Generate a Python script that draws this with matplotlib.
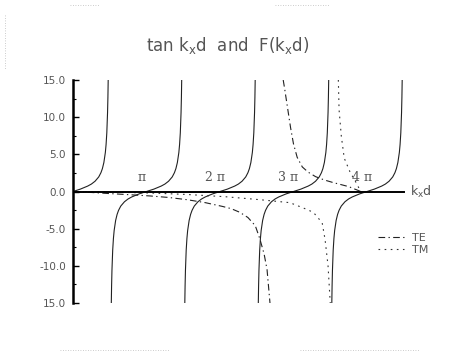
import numpy as np
import matplotlib
matplotlib.use("Agg")
import matplotlib.pyplot as plt
from matplotlib.lines import Line2D

# ---- data (kx*d given in units of pi) ----
# one tan branch read around its zero crossing (offset, value)
tan_dx = [0, 0.1, 0.2, 0.25, 0.3, 0.35, 0.38, 0.4, 0.42, 0.44, 0.45, 0.46, 0.47, 0.475, 0.479]
tan_val = [0, 0.32, 0.73, 1.0, 1.38, 1.96, 2.53, 3.08, 3.9, 5.24, 6.31, 7.9, 10.6, 12.7, 15.1]
tan_centers = [0, 1, 2, 3, 4]

te_lo_x = [0, 0.25, 0.5, 0.75, 1.05, 1.3, 1.55, 1.8, 2.03, 2.15, 2.27, 2.38, 2.48, 2.54, 2.6, 2.64, 2.68]
te_lo_y = [0, -0.13, -0.28, -0.42, -0.6, -0.8, -1.1, -1.5, -2.0, -2.3, -2.8, -3.5, -4.6, -6.3, -8.4, -10.5, -15.0]
te_hi_x = [2.86, 2.88, 2.92, 2.96, 3.0, 3.05, 3.12, 3.2, 3.3, 3.42, 3.54, 3.75, 3.915]
te_hi_y = [15.0, 13.8, 11.2, 8.6, 6.4, 4.6, 3.3, 2.6, 2.0, 1.55, 1.2, 0.66, 0.0]

tm_lo_x = [0, 0.5, 1.05, 1.55, 2.07, 2.54, 2.95, 3.13, 3.2, 3.27, 3.39, 3.43, 3.47, 3.5]
tm_lo_y = [0, -0.08, -0.2, -0.4, -0.7, -1.1, -1.5, -2.2, -2.5, -2.8, -4.2, -6.5, -10.0, -15.0]
tm_hi_x = [3.61, 3.62, 3.65, 3.69, 3.77, 3.84, 3.915]
tm_hi_y = [15.0, 11.0, 7.5, 4.5, 2.6, 1.4, 0.0]

pi_marks = [1, 2, 3, 4]
pi_labels = ["\u03c0", "2 \u03c0", "3 \u03c0", "4 \u03c0"]

yticks = [15, 10, 5, 0, -5, -10, -15]
ytick_labels = ["15.0", "10.0", "5.0", "0.0", "-5.0", "-10.0", "15.0"]

GREY = "#555555"

fig = plt.figure(figsize=(4.54, 3.53), dpi=100)
W, H = 454, 353
ax_l, ax_r, ax_t, ax_b = 73, 430, 80, 303
ax = fig.add_axes([ax_l / W, 1 - ax_b / H, (ax_r - ax_l) / W, (ax_b - ax_t) / H])
xmax = (ax_r - ax_l) / 73.5 * np.pi
ax.set_xlim(0, xmax)
ax.set_ylim(-15, 15)

# tan branches, mirrored around each zero crossing
dx = np.array(tan_dx)
tv = np.array(tan_val)
for c in tan_centers:
    if c == 0:
        xs, ys = dx, tv
    else:
        xs = np.concatenate([c - dx[::-1], c + dx[1:]])
        ys = np.concatenate([-tv[::-1], tv[1:]])
    ax.plot(xs * np.pi, ys, color="#222222", lw=0.8)

te_style = dict(color="#222222", lw=0.8, dashes=[6, 3, 1.2, 3])
tm_style = dict(color="#333333", lw=0.8, dashes=[1.5, 4])
ax.plot(np.array(te_lo_x) * np.pi, te_lo_y, **te_style)
ax.plot(np.array(te_hi_x) * np.pi, te_hi_y, **te_style)
ax.plot(np.array(tm_lo_x) * np.pi, tm_lo_y, **tm_style)
ax.plot(np.array(tm_hi_x) * np.pi, tm_hi_y, **tm_style)

# horizontal kxd axis
ax.plot([0, 4.5 * np.pi], [0, 0], color="black", lw=1.4)
ax.text(4.5 * np.pi + 0.25, 0, r"k$_\mathrm{x}$d", fontsize=9, color=GREY,
        va="center", ha="left")

for m, lab in zip(pi_marks, pi_labels):
    ax.text(m * np.pi - 0.22, 1.9, lab, fontsize=9, color=GREY,
            family="DejaVu Serif", ha="center", va="center")

for s in ["top", "right", "bottom"]:
    ax.spines[s].set_visible(False)
ax.spines["left"].set_linewidth(1.8)
ax.set_xticks([])
ax.set_yticks(yticks)
ax.set_yticklabels(ytick_labels, fontsize=7.5, color=GREY)
ax.set_yticks(np.arange(-12.5, 15, 5), minor=True)
ax.tick_params(axis="y", direction="in", length=4, width=1, pad=5)
ax.tick_params(axis="y", which="minor", direction="in", length=2, width=0.8)

fig.text(228 / W, 1 - 45 / H, r"tan k$_\mathrm{x}$d  and  F(k$_\mathrm{x}$d)",
         fontsize=12, color=GREY, ha="center", va="center")

handles = [Line2D([], [], **te_style), Line2D([], [], **tm_style)]
ax.legend(handles, ["TE", "TM"], loc="center left", frameon=False,
          bbox_to_anchor=(368 / W, 1 - 244 / H), bbox_transform=fig.transFigure,
          fontsize=8, handlelength=2.3, handletextpad=0.8, labelspacing=0.2,
          labelcolor=GREY)

# faint page border marks
for x0, x1, y in [(70, 100, 5), (275, 330, 5), (60, 170, 350), (300, 420, 350)]:
    fig.add_artist(Line2D([x0 / W, x1 / W], [1 - y / H] * 2, color="#bbbbbb",
                          lw=0.6, dashes=[1, 2]))
fig.add_artist(Line2D([5 / W, 5 / W], [1 - 15 / H, 1 - 70 / H], color="#bbbbbb",
                      lw=0.6, dashes=[1, 2]))

fig.savefig("out.png", dpi=100, facecolor="white")
